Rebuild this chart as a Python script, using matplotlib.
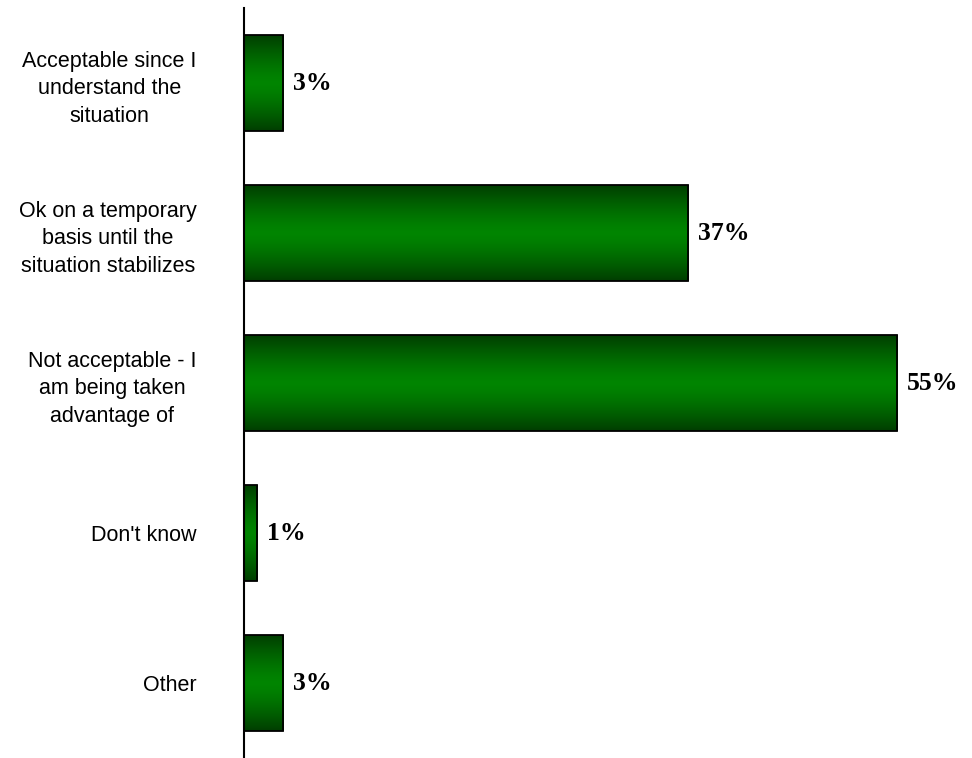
import numpy as np
import matplotlib
matplotlib.use("Agg")
import matplotlib.pyplot as plt
from matplotlib.transforms import ScaledTranslation

categories = [
    "Acceptable since I\nunderstand the\nsituation",
    "Ok on a temporary\nbasis until the\nsituation stabilizes",
    "Not acceptable - I\nam being taken\nadvantage of",
    "Don't know",
    "Other",
]
values = [3.3, 37.4, 55.0, 1.1, 3.3]

fig = plt.figure(figsize=(9.72, 7.58), dpi=100)
ax = fig.add_axes([0.251, 0.0, 0.749, 0.9894])

ypos = np.arange(len(categories))
bar_h = 0.64
bars = ax.barh(ypos, values, height=bar_h, color="none",
               edgecolor="black", linewidth=1.3, zorder=3)

# vertical gradient: dark edges, bright green centre
t = np.linspace(0, 1, 256)
prof = 1 - np.abs(2 * t - 1) ** 1.4
dark = np.array([0.0, 0.24, 0.0])
bright = np.array([0.0, 0.52, 0.0])
grad = dark[None, :] + (bright - dark)[None, :] * prof[:, None]
grad = grad[:, None, :]

for b, y, v in zip(bars, ypos, values):
    im = ax.imshow(grad, extent=(0, v, y + bar_h / 2, y - bar_h / 2),
                   aspect="auto", zorder=2, interpolation="bilinear")
    im.set_clip_path(b)
    ax.text(v + 0.85, y, f"{v:.0f}%", va="center", ha="left",
            fontsize=18.5, fontweight="bold", family="Liberation Serif",
            color="black")

ax.set_xlim(0, 61.3)
ax.set_ylim(len(categories) - 0.5, -0.5)
ax.set_yticks(ypos)
ax.set_yticklabels(categories, fontsize=15.5, family="Liberation Sans")
for lab in ax.get_yticklabels():
    lab.set_multialignment("center")
    lab.set_linespacing(1.4)
    if "\n" in lab.get_text():
        lab.set_transform(lab.get_transform() +
                          ScaledTranslation(0, 4 / 72, fig.dpi_scale_trans))
ax.tick_params(axis="y", length=0, pad=34)
ax.set_xticks([])
for s in ["top", "right", "bottom"]:
    ax.spines[s].set_visible(False)
ax.spines["left"].set_linewidth(1.5)
ax.spines["left"].set_zorder(4)

fig.savefig("out.png", dpi=100)
